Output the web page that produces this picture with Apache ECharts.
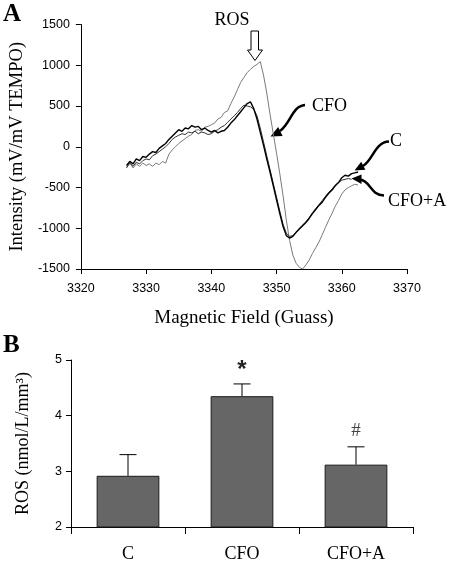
<!DOCTYPE html>
<html><head><meta charset="utf-8">
<script src="https://cdn.jsdelivr.net/npm/echarts@6/dist/echarts.min.js"></script>
<style>html,body{margin:0;padding:0;background:#fff}#c{width:449px;height:563px}</style>
</head><body><div id="c"></div>
<script>
// ---- Panel A: EPR spectra ----
const fieldX = [3327,3327.5,3328,3328.5,3329,3329.5,3330,3330.5,3331,3331.5,
  3332,3332.5,3333,3333.5,3334,3334.5,3335,3335.5,3336,3336.5,
  3337,3337.5,3338,3338.5,3339,3339.5,3340,3340.5,3341,3341.5,
  3342,3342.5,3343,3343.5,3344,3344.5,3345,3345.5,3346,3346.5,
  3347,3347.5,3348,3348.5,3349,3349.5,3350,3350.5,3351,3351.5,
  3352,3352.5,3353,3353.5,3354,3354.5,3355,3355.5,3356,3356.5,
  3357,3357.5,3358,3358.5,3359,3359.5,3360,3360.5,3361,3361.5,
  3362,3362.5];
const intensityC = [-230,-180,-210,-150,-170,-120,-130,-90,-60,-70,
  -20,10,40,90,130,170,210,190,230,220,
  260,240,250,210,230,200,180,200,170,190,
  200,240,290,330,380,430,480,530,550,470,
  340,180,20,-150,-310,-480,-650,-820,-980,-1090,
  -1120,-1100,-1050,-1010,-970,-930,-880,-820,-770,-720,
  -680,-620,-570,-530,-480,-440,-380,-350,-360,-330,
  -320,-310];
const intensityCFO = [-250,-200,-260,-210,-240,-200,-230,-210,-240,-200,
  -220,-180,-200,-90,-40,0,40,70,100,130,
  150,200,210,190,240,250,270,290,340,360,
  420,440,530,610,700,790,850,910,950,985,
  1010,1045,880,660,400,160,-80,-330,-600,-900,
  -1150,-1330,-1430,-1480,-1500,-1450,-1390,-1310,-1240,-1170,
  -1080,-990,-900,-820,-730,-660,-580,-530,-500,-480,
  -460,-470];
const intensityCFOA = [-260,-200,-240,-190,-210,-170,-150,-160,-110,-90,
  -60,-30,0,40,90,120,140,160,150,180,
  170,190,160,180,170,150,160,190,210,240,
  260,300,340,380,420,470,510,500,490,460,
  380,230,60,-110,-280,-450,-620,-790,-950,-1060,
  -1100,-1090,-1050,-1000,-960,-920,-870,-810,-760,-710,
  -660,-610,-560,-520,-470,-440,-410,-400,-390,-400,
  null,null];

// ---- Panel B: ROS bars ----
const categories = ['C', 'CFO', 'CFO+A'];
const rosMean = [2.92, 4.35, 3.12];
const rosErr = [0.38, 0.22, 0.32];
const sigMarks = ['', '*', '#'];

const serif = '"Liberation Serif","Times New Roman",serif';
const sans = '"Liberation Sans",Arial,sans-serif';

function pairs(ys) { return fieldX.map((x, i) => [x, ys[i]]); }
const plain = v => String(v);

const axisLineStyle = {show: true, onZero: false, lineStyle: {color: '#000', width: 1}};
const tickStyle = {show: true, inside: false, length: 5, lineStyle: {color: '#000', width: 1}};

const chart = echarts.init(document.getElementById('c'));

const option = {
  animation: false,
  backgroundColor: '#fff',
  grid: [
    {left: 71, top: 24.5, width: 336, height: 244.5},
    {left: 71, top: 360, width: 342, height: 169.3}
  ],
  xAxis: [
    {type: 'value', gridIndex: 0, min: 3320, max: 3370, interval: 10,
     axisLine: axisLineStyle, axisTick: tickStyle, splitLine: {show: false},
     axisLabel: {color: '#000', fontFamily: sans, fontSize: 12.5, margin: 13, formatter: plain},
     name: 'Magnetic Field (Guass)', nameLocation: 'middle', nameGap: 40,
     nameTextStyle: {fontFamily: serif, fontSize: 19, color: '#000'}},
    {type: 'category', gridIndex: 1, data: categories,
     axisLine: axisLineStyle, axisTick: {show: true, length: 7, lineStyle: {color: '#000'}},
     axisLabel: {color: '#000', fontFamily: serif, fontSize: 18, margin: 18}}
  ],
  yAxis: [
    {type: 'value', gridIndex: 0, min: -1500, max: 1500, interval: 500,
     axisLine: axisLineStyle, axisTick: tickStyle, splitLine: {show: false},
     axisLabel: {color: '#000', fontFamily: sans, fontSize: 12.5, margin: 11, formatter: plain},
     name: 'Intensity (mV/mV TEMPO)', nameLocation: 'middle', nameGap: 52,
     nameTextStyle: {fontFamily: serif, fontSize: 18.5, color: '#000'}},
    {type: 'value', gridIndex: 1, min: 2, max: 5, interval: 1,
     axisLine: axisLineStyle, axisTick: tickStyle, splitLine: {show: false},
     axisLabel: {color: '#000', fontFamily: sans, fontSize: 12.5, margin: 9, formatter: plain},
     name: 'ROS (nmol/L/mm³)', nameLocation: 'middle', nameGap: 39,
     nameTextStyle: {fontFamily: serif, fontSize: 18, color: '#000'}}
  ],
  series: [
    {name: 'CFO', type: 'line', xAxisIndex: 0, yAxisIndex: 0, data: pairs(intensityCFO),
     showSymbol: false, lineStyle: {color: '#7a7a7a', width: 1}, z: 2},
    {name: 'CFO+A', type: 'line', xAxisIndex: 0, yAxisIndex: 0, data: pairs(intensityCFOA),
     showSymbol: false, lineStyle: {color: '#333', width: 1}, z: 3},
    {name: 'C', type: 'line', xAxisIndex: 0, yAxisIndex: 0, data: pairs(intensityC),
     showSymbol: false, lineStyle: {color: '#000', width: 1.4}, z: 4},
    {name: 'ROS', type: 'bar', xAxisIndex: 1, yAxisIndex: 1, data: rosMean,
     barWidth: '55%', itemStyle: {color: '#666', borderColor: '#1a1a1a', borderWidth: 1}, z: 2},
    {name: 'err', type: 'custom', xAxisIndex: 1, yAxisIndex: 1, z: 5,
     data: rosMean.map((m, i) => [i, m, m + rosErr[i]]),
     renderItem: function (params, api) {
       const base = api.coord([api.value(0), api.value(1)]);
       const top = api.coord([api.value(0), api.value(2)]);
       const hw = 8.5;
       const children = [
         {type: 'line', shape: {x1: base[0], y1: base[1], x2: top[0], y2: top[1]}, style: {stroke: '#000', lineWidth: 1}},
         {type: 'line', shape: {x1: top[0] - hw, y1: top[1], x2: top[0] + hw, y2: top[1]}, style: {stroke: '#000', lineWidth: 1}}
       ];
       const mark = sigMarks[params.dataIndex];
       if (mark === '*') {
         children.push({type: 'text', x: top[0], y: top[1] - 2, style: {text: mark, fontFamily: sans, fontSize: 24, fontWeight: 'bold', fill: '#222', align: 'center', verticalAlign: 'bottom'}});
       } else if (mark) {
         children.push({type: 'text', x: top[0], y: top[1] - 6, style: {text: mark, fontFamily: serif, fontSize: 19, fill: '#444', align: 'center', verticalAlign: 'bottom'}});
       }
       return {type: 'group', children: children};
     }}
  ],
  graphic: [
    {type: 'text', left: 3, top: 2, style: {text: 'A', fontFamily: serif, fontWeight: 'bold', fontSize: 25, fill: '#000'}},
    {type: 'text', left: 3, top: 333, style: {text: 'B', fontFamily: serif, fontWeight: 'bold', fontSize: 25, fill: '#000'}},
    {type: 'text', x: 232, y: 20, style: {text: 'ROS', fontFamily: serif, fontSize: 18, fill: '#000', align: 'center', verticalAlign: 'middle'}},
    {type: 'polygon', shape: {points: [[251,31],[258.5,31],[258.5,50],[262.5,50],[255,60.5],[247.5,50],[251,50]]},
     style: {fill: '#fff', stroke: '#000', lineWidth: 1}},
    {type: 'text', x: 312, y: 106.5, style: {text: 'CFO', fontFamily: serif, fontSize: 18, fill: '#000', align: 'left', verticalAlign: 'middle'}},
    {type: 'bezierCurve', shape: {x1: 305, y1: 105, cpx1: 292, cpy1: 106, cpx2: 291, cpy2: 123, x2: 280, y2: 131},
     style: {stroke: '#000', lineWidth: 2.5, fill: null}},
    {type: 'polygon', shape: {points: [[270.5,136.5],[278.2,127.1],[282.6,136.1]]}, style: {fill: '#000'}},
    {type: 'text', x: 390, y: 141, style: {text: 'C', fontFamily: serif, fontSize: 18, fill: '#000', align: 'left', verticalAlign: 'middle'}},
    {type: 'bezierCurve', shape: {x1: 389, y1: 141.5, cpx1: 375, cpy1: 142, cpx2: 373, cpy2: 160, x2: 363, y2: 166},
     style: {stroke: '#000', lineWidth: 2.5, fill: null}},
    {type: 'polygon', shape: {points: [[354.5,170.5],[365.4,169.8],[361.2,161.8]]}, style: {fill: '#000'}},
    {type: 'text', x: 388, y: 201, style: {text: 'CFO+A', fontFamily: serif, fontSize: 18, fill: '#000', align: 'left', verticalAlign: 'middle'}},
    {type: 'bezierCurve', shape: {x1: 384, y1: 195.5, cpx1: 370, cpy1: 195, cpx2: 371, cpy2: 181, x2: 360, y2: 179.5},
     style: {stroke: '#000', lineWidth: 2.5, fill: null}},
    {type: 'polygon', shape: {points: [[351.5,178.5],[361.5,174.5],[361.5,184]]}, style: {fill: '#000'}}
  ]
};
chart.setOption(option);
</script>
</body></html>
